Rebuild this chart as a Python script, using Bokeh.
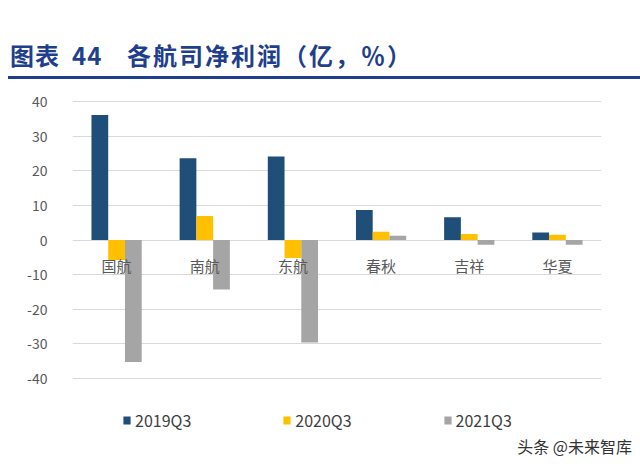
from bokeh.plotting import figure
from bokeh.models import (FactorRange, Range1d, Legend, LegendItem, ColumnDataSource,
                          FixedTicker, Div, CustomJSTickFormatter)
from bokeh.layouts import column
from bokeh.transform import dodge
from bokeh.core.properties import value
from bokeh.embed import file_html
from bokeh.resources import INLINE

categories = ["国航", "南航", "东航", "春秋", "吉祥", "华夏"]
series_names = ["2019Q3", "2020Q3", "2021Q3"]
v2019 = [36.1, 23.6, 24.1, 8.7, 6.6, 2.2]
v2020 = [-5.8, 6.9, -5.2, 2.4, 1.7, 1.5]
v2021 = [-35.2, -14.3, -29.6, 1.2, -1.4, -1.4]
y_ticks = [-40, -30, -20, -10, 0, 10, 20, 30, 40]
colors = ["#1f4e79", "#ffc000", "#a5a5a5"]
title_parts = ["图表", "44", "各航司净利润（亿，％）"]
watermark = "头条 @未来智库"

FONT = "Noto Sans CJK SC"
W = 640
TITLE_H = 90
FIG_H = 348
WM_H = 464 - TITLE_H - FIG_H
TCOL = "#1f3f8c"

spans = ""
for part, left, ls in zip(title_parts, [10, 72, 127], [1, 1, 2]):
    spans += (f'<span style="position:absolute;left:{left}px;top:39px;font-family:\'{FONT}\';'
              f'font-size:24px;font-weight:bold;color:{TCOL};line-height:32px;letter-spacing:{ls}px;'
              f'white-space:nowrap;">{part}</span>')
title_div = Div(
    text=(f'<div style="position:relative;width:{W}px;height:{TITLE_H}px;">{spans}'
          f'<div style="position:absolute;left:8px;top:76px;width:{W-8}px;height:3px;background:{TCOL};"></div>'
          f'</div>'),
    width=W, height=TITLE_H, margin=0)

src = ColumnDataSource(dict(cat=categories, a=v2019, b=v2020, c=v2021,
                            zero=[0] * len(categories)))

ppu = (378 - 101) / 80.0
frame_top_canvas = 100
frame_bot_canvas = TITLE_H + FIG_H
y_top = 40 + (101 - frame_top_canvas) / ppu
y_bot = -40 - (frame_bot_canvas - 378) / ppu

p = figure(x_range=FactorRange(factors=categories, range_padding=0),
           y_range=Range1d(y_bot, y_top),
           width=W, height=FIG_H, output_backend="svg", toolbar_location=None,
           min_border_left=72, min_border_right=W - 601,
           min_border_top=frame_top_canvas - TITLE_H, min_border_bottom=0, margin=0)
p.background_fill_color = "white"
p.border_fill_color = "white"
p.outline_line_color = None

bw = 0.19
renderers = []
for field, off, col in zip(["a", "b", "c"], [-bw, 0, bw], colors):
    r = p.vbar(x=dodge("cat", off, range=p.x_range), bottom=0, top=field, width=bw,
               source=src, fill_color=col, line_color=None)
    renderers.append(r)

p.xaxis.visible = False
p.xgrid.visible = False
p.ygrid.grid_line_color = "#d9d9d9"
p.ygrid.grid_line_width = 1
p.yaxis.ticker = FixedTicker(ticks=y_ticks)
p.yaxis.formatter = CustomJSTickFormatter(code="return tick.toFixed(0);")
p.yaxis.axis_line_color = None
p.yaxis.major_tick_line_color = None
p.yaxis.minor_tick_line_color = None
p.yaxis.major_label_standoff = 19
p.yaxis.major_label_text_font = FONT
p.yaxis.major_label_text_font_size = "14px"
p.yaxis.major_label_text_color = "#595959"

p.text(x="cat", y="zero", text="cat", source=src, y_offset=25,
       text_align="center", text_baseline="middle",
       text_font=value(FONT), text_font_size="15px", text_color="#595959")

legend = Legend(items=[LegendItem(label=n, renderers=[r]) for n, r in zip(series_names, renderers)],
                orientation="horizontal", location=(122 - 72, frame_bot_canvas - 432),
                glyph_width=9, glyph_height=10, label_standoff=4, spacing=91,
                padding=0, margin=0, border_line_color=None, background_fill_alpha=0,
                label_text_font=FONT, label_text_font_size="16px", label_text_color="#404040",
                label_height=10)
p.add_layout(legend, "center")

wm_div = Div(
    text=(f'<div style="position:relative;width:{W}px;height:{WM_H}px;">'
          f'<span style="position:absolute;right:8px;top:-2px;font-family:\'{FONT}\';'
          f'font-size:16px;color:#333333;line-height:20px;white-space:nowrap;">{watermark}</span></div>'),
    width=W, height=WM_H, margin=0)

layout = column(title_div, p, wm_div, spacing=0)
open("out.html", "w").write(file_html(layout, INLINE))
